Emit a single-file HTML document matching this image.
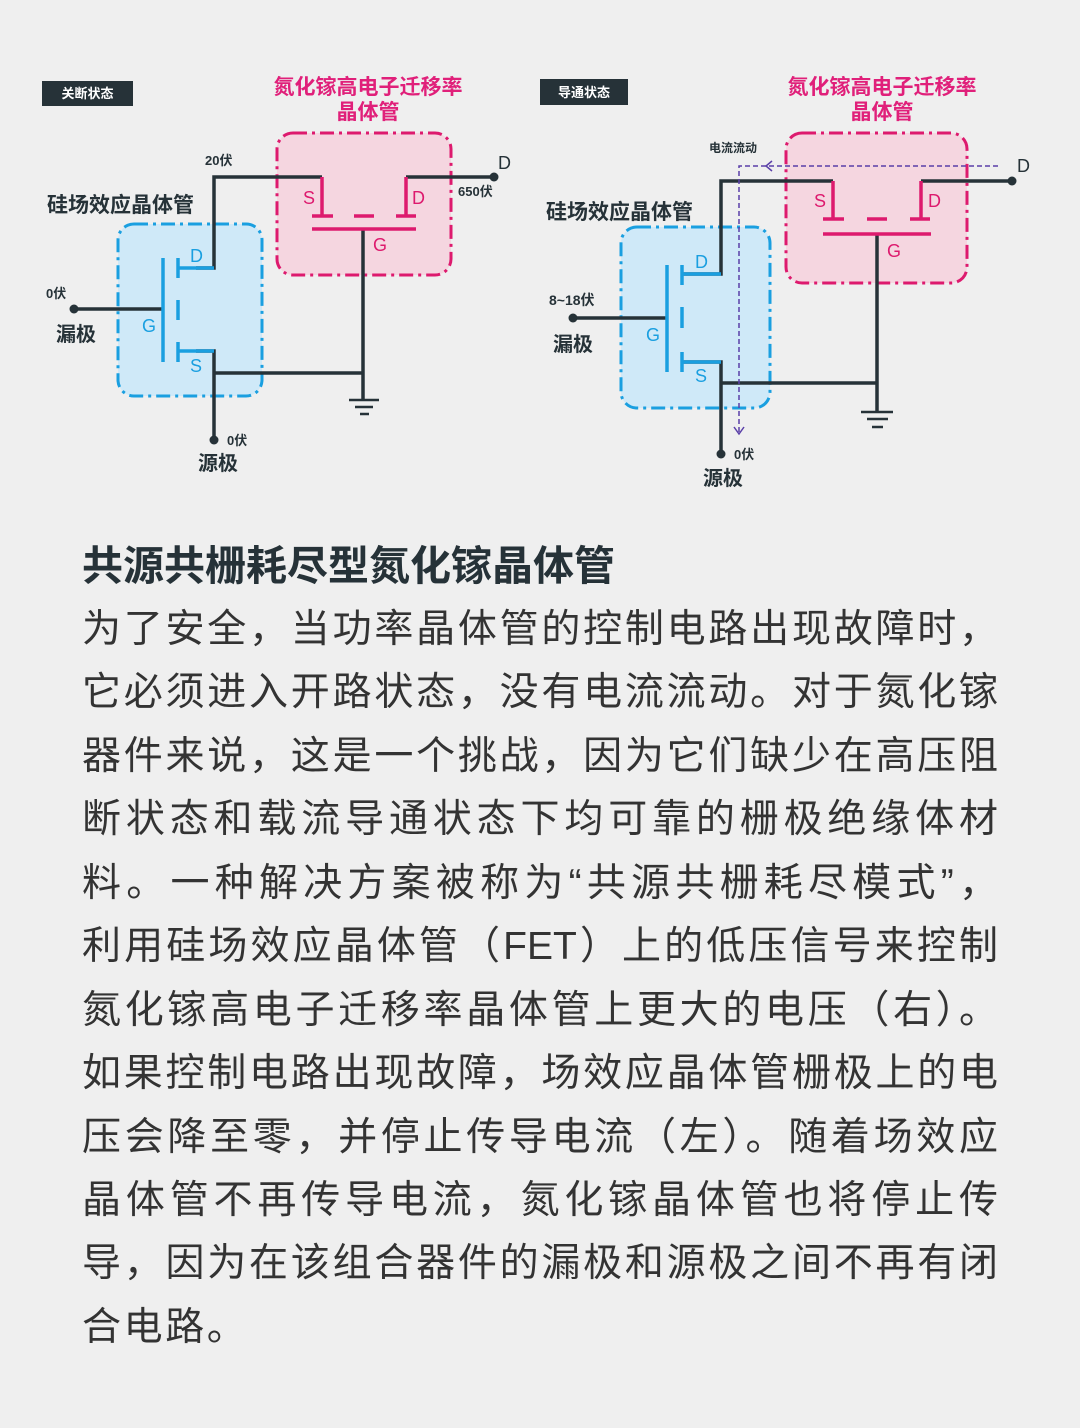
<!DOCTYPE html>
<html><head><meta charset="utf-8">
<style>
html,body{margin:0;padding:0;}
body{width:1080px;height:1428px;background:#efefef;position:relative;overflow:hidden;font-family:"Liberation Sans","Noto Sans CJK SC",sans-serif;}
svg{position:absolute;left:0;top:0;}
.h{position:absolute;left:82px;top:540px;font-size:41px;font-weight:bold;color:#263238;line-height:52px;white-space:nowrap;font-family:"Liberation Sans","Noto Sans CJK SC",sans-serif;}
.body{position:absolute;left:82px;top:598px;width:916px;color:#333;font-size:39px;font-family:"Liberation Sans","Noto Sans CJK SC",sans-serif;}
.body div{height:63.45px;line-height:63.45px;text-align:justify;text-align-last:justify;text-justify:inter-character;white-space:nowrap;}
.body div.l{text-align-last:left;letter-spacing:2.6px;}
</style></head><body>
<svg width="1080" height="520" viewBox="0 0 1080 520" font-family="Liberation Sans, Noto Sans CJK SC, sans-serif">
<!-- LEFT -->
<rect x="42" y="81" width="91" height="25" fill="#263238"/>
<text x="87.5" y="98" font-size="13" font-weight="bold" fill="#fff" text-anchor="middle">关断状态</text>
<text x="368" y="94" font-size="21" font-weight="bold" fill="#e0207a" text-anchor="middle">氮化镓高电子迁移率</text>
<text x="368" y="119" font-size="21" font-weight="bold" fill="#e0207a" text-anchor="middle">晶体管</text>
<rect x="277" y="133" width="174" height="142" rx="16" fill="#f5d6e0" stroke="#dd1a6e" stroke-width="3" stroke-dasharray="14,5,3,5"/>
<rect x="118" y="224" width="144" height="172" rx="16" fill="#cfe9f8" stroke="#1a9fe0" stroke-width="3" stroke-dasharray="14,5,3,5"/>
<g stroke="#263238" stroke-width="3.5" fill="none">
<polyline points="196,268 214,268 214,177 322,177"/>
<polyline points="406,177 494,177"/>
<polyline points="196,351 214,351 214,440"/>
<line x1="214" y1="373" x2="363" y2="373"/>
<line x1="363" y1="229" x2="363" y2="400"/>
<line x1="74" y1="309" x2="163" y2="309"/>
<line x1="349" y1="400" x2="379" y2="400" stroke-width="2.5"/>
<line x1="355" y1="407" x2="373" y2="407" stroke-width="2.5"/>
<line x1="360" y1="414" x2="369" y2="414" stroke-width="2.5"/>
</g>
<circle cx="494" cy="177" r="4.5" fill="#263238"/>
<circle cx="74" cy="309" r="4.5" fill="#263238"/>
<circle cx="214" cy="440" r="4.5" fill="#263238"/>
<g stroke="#dd1a6e" stroke-width="3.5" fill="none">
<polyline points="322,177 322,216"/><line x1="312" y1="216" x2="333" y2="216"/>
<line x1="354" y1="216" x2="374" y2="216"/>
<polyline points="406,177 406,216"/><line x1="396" y1="216" x2="416" y2="216"/>
<line x1="312" y1="229" x2="416" y2="229"/>
</g>
<g stroke="#1a9fe0" stroke-width="3.5" fill="none">
<line x1="163" y1="258" x2="163" y2="362"/>
<line x1="178" y1="258" x2="178" y2="278"/>
<line x1="178" y1="300" x2="178" y2="320"/>
<line x1="178" y1="342" x2="178" y2="362"/>
<line x1="178" y1="268" x2="214" y2="268"/>
<line x1="178" y1="351" x2="214" y2="351"/>
</g>
<g font-size="18" fill="#1a9fe0"><text x="190" y="262">D</text><text x="142" y="332">G</text><text x="190" y="372">S</text></g>
<g font-size="18" fill="#dd1a6e"><text x="303" y="204">S</text><text x="412" y="204">D</text><text x="373" y="251">G</text></g>
<g fill="#263238" font-weight="bold">
<text x="205" y="165" font-size="13">20伏</text>
<text x="458" y="196" font-size="13">650伏</text>
<text x="498" y="169" font-size="18" font-weight="normal">D</text>
<text x="47" y="212" font-size="21">硅场效应晶体管</text>
<text x="46" y="298" font-size="13">0伏</text>
<text x="56" y="341" font-size="20">漏极</text>
<text x="227" y="445" font-size="13">0伏</text>
<text x="198" y="470" font-size="20">源极</text>
</g>
<!-- RIGHT -->
<rect x="540" y="79" width="88" height="26" fill="#263238"/>
<text x="584" y="97" font-size="13" font-weight="bold" fill="#fff" text-anchor="middle">导通状态</text>
<text x="882" y="94" font-size="21" font-weight="bold" fill="#e0207a" text-anchor="middle">氮化镓高电子迁移率</text>
<text x="882" y="119" font-size="21" font-weight="bold" fill="#e0207a" text-anchor="middle">晶体管</text>
<rect x="786" y="133" width="181" height="150" rx="16" fill="#f5d6e0" stroke="#dd1a6e" stroke-width="3" stroke-dasharray="14,5,3,5"/>
<rect x="621" y="227" width="149" height="181" rx="16" fill="#cfe9f8" stroke="#1a9fe0" stroke-width="3" stroke-dasharray="14,5,3,5"/>
<g stroke="#263238" stroke-width="3.5" fill="none">
<polyline points="682,274 721,274 721,181 833,181"/>
<polyline points="921,181 1012,181"/>
<polyline points="682,362 721,362 721,454"/>
<line x1="721" y1="383" x2="877" y2="383"/>
<line x1="877" y1="234" x2="877" y2="412"/>
<line x1="573" y1="318" x2="667" y2="318"/>
<line x1="861" y1="412" x2="893" y2="412" stroke-width="2.5"/>
<line x1="867" y1="419" x2="888" y2="419" stroke-width="2.5"/>
<line x1="872" y1="427" x2="883" y2="427" stroke-width="2.5"/>
</g>
<circle cx="1012" cy="181" r="4.5" fill="#263238"/>
<circle cx="573" cy="318" r="4.5" fill="#263238"/>
<circle cx="721" cy="454" r="4.5" fill="#263238"/>
<g stroke="#dd1a6e" stroke-width="3.5" fill="none">
<polyline points="833,181 833,219"/><line x1="823" y1="219" x2="844" y2="219"/>
<line x1="867" y1="219" x2="887" y2="219"/>
<polyline points="921,181 921,219"/><line x1="910" y1="219" x2="930" y2="219"/>
<line x1="823" y1="234" x2="931" y2="234"/>
</g>
<g stroke="#1a9fe0" stroke-width="3.5" fill="none">
<line x1="667" y1="265" x2="667" y2="372"/>
<line x1="682" y1="265" x2="682" y2="285"/>
<line x1="682" y1="307" x2="682" y2="328"/>
<line x1="682" y1="352" x2="682" y2="372"/>
<line x1="682" y1="274" x2="721" y2="274"/>
<line x1="682" y1="362" x2="721" y2="362"/>
</g>
<g stroke="#5a3fa8" stroke-width="1.5" fill="none">
<polyline points="998,166 739,166 739,433" stroke-dasharray="5,3"/>
<polyline points="772,161 766,166 772,171"/>
<polyline points="734,427 739,434 744,427"/>
</g>
<g font-size="18" fill="#1a9fe0"><text x="695" y="268">D</text><text x="646" y="341">G</text><text x="695" y="382">S</text></g>
<g font-size="18" fill="#dd1a6e"><text x="814" y="207">S</text><text x="928" y="207">D</text><text x="887" y="257">G</text></g>
<g fill="#263238" font-weight="bold">
<text x="709" y="152" font-size="12">电流流动</text>
<text x="1017" y="172" font-size="18" font-weight="normal">D</text>
<text x="546" y="219" font-size="21">硅场效应晶体管</text>
<text x="549" y="305" font-size="14">8~18伏</text>
<text x="553" y="351" font-size="20">漏极</text>
<text x="734" y="459" font-size="13">0伏</text>
<text x="703" y="485" font-size="20">源极</text>
</g>
</svg>
<div class="h">共源共栅耗尽型氮化镓晶体管</div>
<div class="body">
<div>为了安全，当功率晶体管的控制电路出现故障时，</div>
<div>它必须进入开路状态，没有电流流动。对于氮化镓</div>
<div>器件来说，这是一个挑战，因为它们缺少在高压阻</div>
<div>断状态和载流导通状态下均可靠的栅极绝缘体材</div>
<div>料。一种解决方案被称为“共源共栅耗尽模式”，</div>
<div>利用硅场效应晶体管（FET）上的低压信号来控制</div>
<div>氮化镓高电子迁移率晶体管上更大的电压（右）。</div>
<div>如果控制电路出现故障，场效应晶体管栅极上的电</div>
<div>压会降至零，并停止传导电流（左）。随着场效应</div>
<div>晶体管不再传导电流，氮化镓晶体管也将停止传</div>
<div>导，因为在该组合器件的漏极和源极之间不再有闭</div>
<div class="l">合电路。</div>
</div>
</body></html>
